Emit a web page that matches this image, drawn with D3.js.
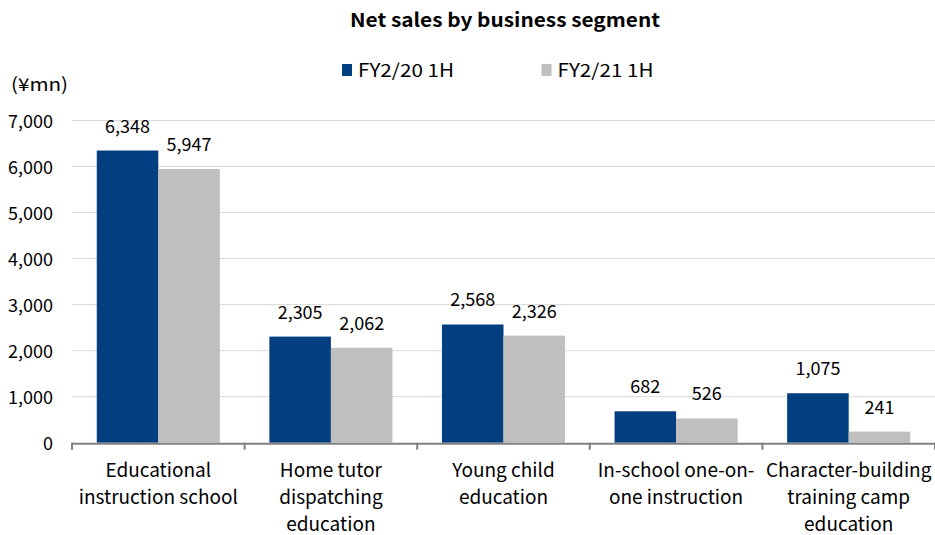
<!DOCTYPE html>
<html><head><meta charset="utf-8">
<script src="https://cdn.jsdelivr.net/npm/d3@7"></script>
<style>body{margin:0;background:#fff}svg{display:block}text{font-family:"Noto Sans CJK JP","Liberation Sans",sans-serif;fill:#000}</style>
</head><body><svg id="c" width="935" height="535"></svg>
<script>
const categories = [
  ["Educational","instruction school"],
  ["Home tutor","dispatching","education"],
  ["Young child","education"],
  ["In-school one-on-","one instruction"],
  ["Character-building","training camp","education"]
];
const seriesNames = ["FY2/20 1H","FY2/21 1H"];
const fy20 = [6348, 2305, 2568, 682, 1075];
const fy21 = [5947, 2062, 2326, 526, 241];
const yTicks = [0,1000,2000,3000,4000,5000,6000,7000];
const colors = ["#023e80","#bfbfbf"];

(function(){
const svg = d3.select("#c");
const pL = 72, pR = 935, pT = 120.5, pB = 442.7;
const x = d3.scaleBand().domain(d3.range(categories.length)).range([pL,pR]).paddingInner(0.287).paddingOuter(0.1435);
const xs = d3.scaleBand().domain([0,1]).range([0,x.bandwidth()]);
const y = d3.scaleLinear().domain([0,7000]).range([pB,pT]);
const fmt = d3.format(",");

svg.append("g").selectAll("line").data(yTicks.slice(1)).join("line")
  .attr("x1",pL).attr("x2",pR).attr("y1",d=>y(d)).attr("y2",d=>y(d))
  .attr("stroke","#d9d9d9").attr("stroke-width",1);

svg.append("g").selectAll("text").data(yTicks).join("text")
  .attr("x",53).attr("y",d=>y(d)+7).attr("text-anchor","end")
  .style("font-size","18px").text(d=>fmt(d));

const series = [fy20, fy21];
series.forEach((vals,si)=>{
  const g = svg.append("g");
  g.selectAll("rect").data(vals).join("rect")
    .attr("x",(d,i)=>x(i)+xs(si)).attr("width",xs.bandwidth())
    .attr("y",d=>y(d)).attr("height",d=>pB-y(d)).attr("fill",colors[si]);
  g.selectAll("text").data(vals).join("text")
    .attr("x",(d,i)=>x(i)+xs(si)+xs.bandwidth()/2).attr("y",d=>y(d)-18)
    .attr("text-anchor","middle").style("font-size","18px").text(d=>fmt(d));
});

const step = (pR-pL)/categories.length;
svg.append("line").attr("x1",pL-1).attr("x2",pR).attr("y1",pB+1).attr("y2",pB+1)
  .attr("stroke","#808080").attr("stroke-width",2);
svg.append("g").selectAll("line").data(d3.range(categories.length+1)).join("line")
  .attr("x1",i=>pL+i*step).attr("x2",i=>pL+i*step).attr("y1",pB).attr("y2",pB+7)
  .attr("stroke","#808080").attr("stroke-width",2);

const cl = svg.append("g");
categories.forEach((lines,i)=>{
  const t = cl.append("text").attr("text-anchor","middle").style("font-size","19px");
  lines.forEach((ln,j)=>{
    t.append("tspan").attr("x",x(i)+x.bandwidth()/2).attr("y",476.5+j*27).text(ln);
  });
});

svg.append("text").attr("x",505).attr("y",27).attr("text-anchor","middle")
  .attr("textLength",310).attr("lengthAdjust","spacingAndGlyphs")
  .style("font-size","19px").style("font-weight","bold").text("Net sales by business segment");

const lg = [[342,seriesNames[0]],[541.5,seriesNames[1]]];
lg.forEach(([lx,name],i)=>{
  svg.append("rect").attr("x",lx).attr("y",64).attr("width",10).attr("height",12).attr("fill",colors[i]);
  svg.append("text").attr("x",lx+16).attr("y",77).attr("textLength",96).attr("lengthAdjust","spacingAndGlyphs")
    .style("font-size","18px").text(name);
});

svg.append("text").attr("x",11).attr("y",90.5).attr("textLength",57).attr("lengthAdjust","spacingAndGlyphs")
  .style("font-size","18px").text("(¥mn)");
})();
</script></body></html>
